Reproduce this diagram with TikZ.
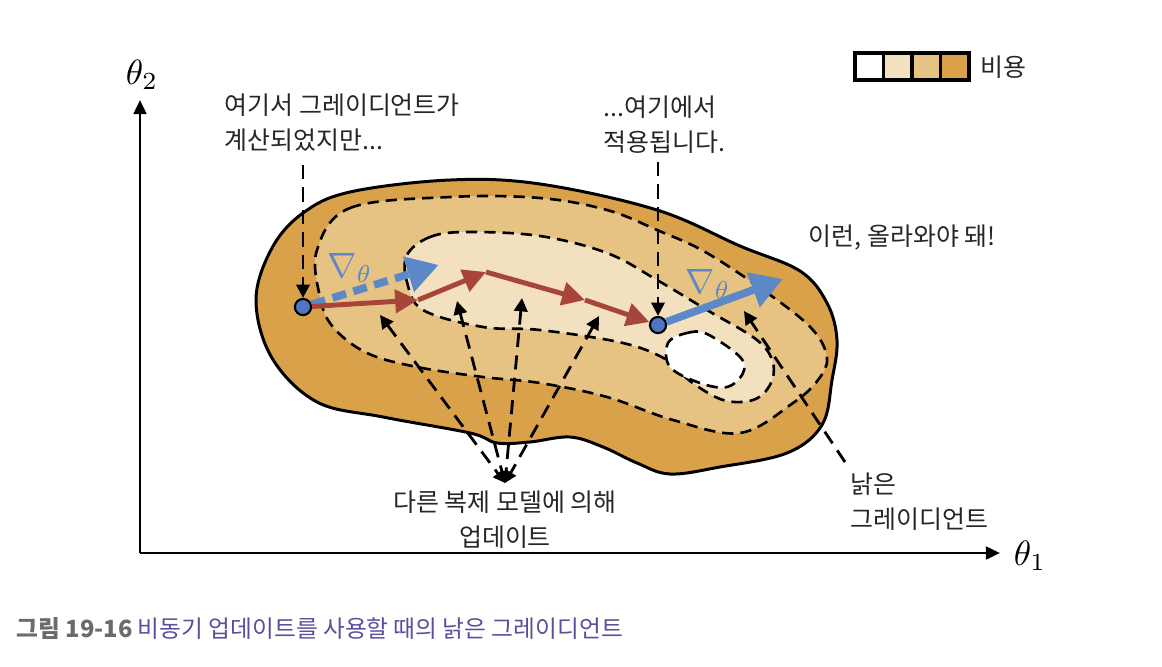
\documentclass[tikz,border=0pt]{standalone}
\usepackage{fontspec}
\newfontfamily\kr{Noto Sans CJK KR}
\usetikzlibrary{arrows.meta}

\tikzset{
    contour/.style={draw=black, line width=0.75pt, dash pattern=on 3.2pt off 2pt},
    pointer/.style={draw=black, line width=0.8pt, dash pattern=on 4pt off 2.4pt, -{Triangle[length=3.8pt,width=3.8pt]}},
    fanline/.style={pointer, {Triangle[length=3.8pt,width=3.8pt]}-{Triangle[length=3.4pt,width=3.4pt]}},
    stepline/.style={draw=stepRed, line width=1.4pt, -{Triangle[length=6.5pt,width=6.5pt]}},
    label/.style={font=\kr\fontsize{7.1}{9.9}\selectfont, inner sep=0pt, text=black!85},
    dot/.style={circle, fill=dotBlue, draw=black, line width=0.6pt, minimum size=4.6pt, inner sep=0pt}
}

\begin{document}
\begin{tikzpicture}[x=0.1mm, y=-0.1mm]
    \definecolor{costDark}{HTML}{D9A149}
    \definecolor{costMid}{HTML}{E6C283}
    \definecolor{costLight}{HTML}{F2E0BE}
    \definecolor{stepRed}{HTML}{A8453A}
    \definecolor{dotBlue}{HTML}{4F76C0}
    \definecolor{gradBlue}{HTML}{5D88C7}
    \definecolor{capGray}{HTML}{6B6B6B}
    \definecolor{capPurple}{HTML}{5B4F9C}

    \useasboundingbox (0,0) rectangle (1162,666);

    % Draw axes
    \coordinate (origin) at (140,553);
    \node (t2) at (142,75) {\fontsize{10}{12}\selectfont$\theta_2$};
    \node (t1) at (1030,556) {\fontsize{10}{12}\selectfont$\theta_1$};
    \draw[line width=0.8pt, -{Triangle[length=4pt,width=3.6pt]}] (origin) -- (140,100);
    \draw[line width=0.8pt, -{Triangle[length=4pt,width=3.6pt]}] (origin) -- (1000,553);

    % Cost surface
    \filldraw[fill=costDark, draw=black, line width=0.85pt] plot[smooth cycle, tension=0.6] coordinates {
        (256,300) (272,248) (303,213) (350,192) (450,180) (540,184) (657,210) (740,246)
        (800,271) (827,303) (837,340) (832,380) (822,425) (787,453) (720,467) (670,474)
        (637,463) (603,447) (570,437) (530,442) (497,443) (470,433) (383,417) (317,402) (272,358)};
    \filldraw[fill=costMid, contour] plot[smooth cycle, tension=0.6] coordinates {
        (317,250) (350,208) (450,197) (540,198) (607,210) (657,230) (707,253) (773,297)
        (813,330) (827,358) (818,380) (793,403) (740,433) (673,420) (607,397) (540,383)
        (483,377) (417,367) (367,353) (333,327) (320,297)};
    \filldraw[fill=costLight, contour] plot[smooth cycle, tension=0.6] coordinates {
        (407,255) (430,237) (467,232) (540,236) (607,253) (657,280) (707,310) (757,340)
        (773,363) (770,385) (753,400) (723,400) (690,381) (667,360) (623,343) (540,330)
        (483,327) (423,310) (407,282)};
    \filldraw[fill=white, contour] plot[smooth cycle, tension=0.6] coordinates {
        (668,343) (687,333) (707,334) (740,357) (743,373) (727,387) (700,383) (670,367)};

    % Points where the gradient is computed and applied
    \node[dot] (dotL) at (303,307) {};
    \node[dot] (dotR) at (658,325) {};
    \coordinate (s1) at (418,300);
    \coordinate (s2) at (486,272);
    \coordinate (s3) at (585,300);

    % Stale gradient
    \coordinate (gradL) at (432,267);
    \coordinate (gradR) at (783,279);
    \draw[draw=gradBlue, line width=2.2pt, dash pattern=on 4pt off 2.2pt, -{Triangle[length=9pt,width=10pt,sep=-2pt]}] (dotL) -- (gradL);
    \draw[draw=gradBlue, line width=2.2pt, -{Triangle[length=9pt,width=10pt]}] (dotR) -- (gradR);
    \node[text=gradBlue] (nablaL) at (350,268) {\fontsize{10}{12}\selectfont$\nabla_\theta$};
    \node[text=gradBlue] (nablaR) at (708,284) {\fontsize{10}{12}\selectfont$\nabla_\theta$};

    % Updates by other replicas
    \draw[stepline] (dotL) -- (s1);
    \draw[stepline] (s1) -- (s2);
    \draw[stepline] (s2) -- (s3);
    \draw[stepline] (s3) -- (dotR);

    % Labels
    \node[label, anchor=west, align=left] (calc) at (224,123) {여기서 그레이디언트가\\계산되었지만...};
    \node[label, anchor=west, align=left] (apply) at (603,125) {...여기에서\\적용됩니다.};
    \node[label, anchor=west] (climb) at (808,238) {이런, 올라와야 돼!};
    \node[label, align=center] (other) at (505,520) {다른 복제 모델에 의해\\업데이트};
    \node[label, anchor=west, align=left] (stale) at (850,502) {낡은\\그레이디언트};

    \coordinate (calcEnd) at (303,165);
    \coordinate (applyEnd) at (658,162);
    \draw[pointer] (calcEnd) -- (dotL.north);
    \draw[pointer] (applyEnd) -- (dotR.north);

    % Fan of updates
    \coordinate (fan) at (505,483);
    \foreach \tip in {(380,315), (457,301), (522,298), (599,316)}
        \draw[fanline] \tip -- (fan);
    \coordinate (staleEnd) at (845,462);
    \draw[pointer] (staleEnd) -- (744,311);

    % Legend
    \foreach \c [count=\i from 0] in {white, costLight, costMid, costDark}
        \draw[fill=\c, line width=1.1pt] (855+\i*28.5,53) rectangle ++(28.5,27);
    \node[label, anchor=west] (cost) at (980,67) {비용};

    % Caption
    \node[anchor=west, inner sep=0pt, font=\kr\fontsize{6.75}{8}\selectfont] (caption) at (16,628)
        {\textcolor{capGray}{\bfseries 그림 19-16} \textcolor{capPurple}{비동기 업데이트를 사용할 때의 낡은 그레이디언트}};

\end{tikzpicture}
\end{document}
